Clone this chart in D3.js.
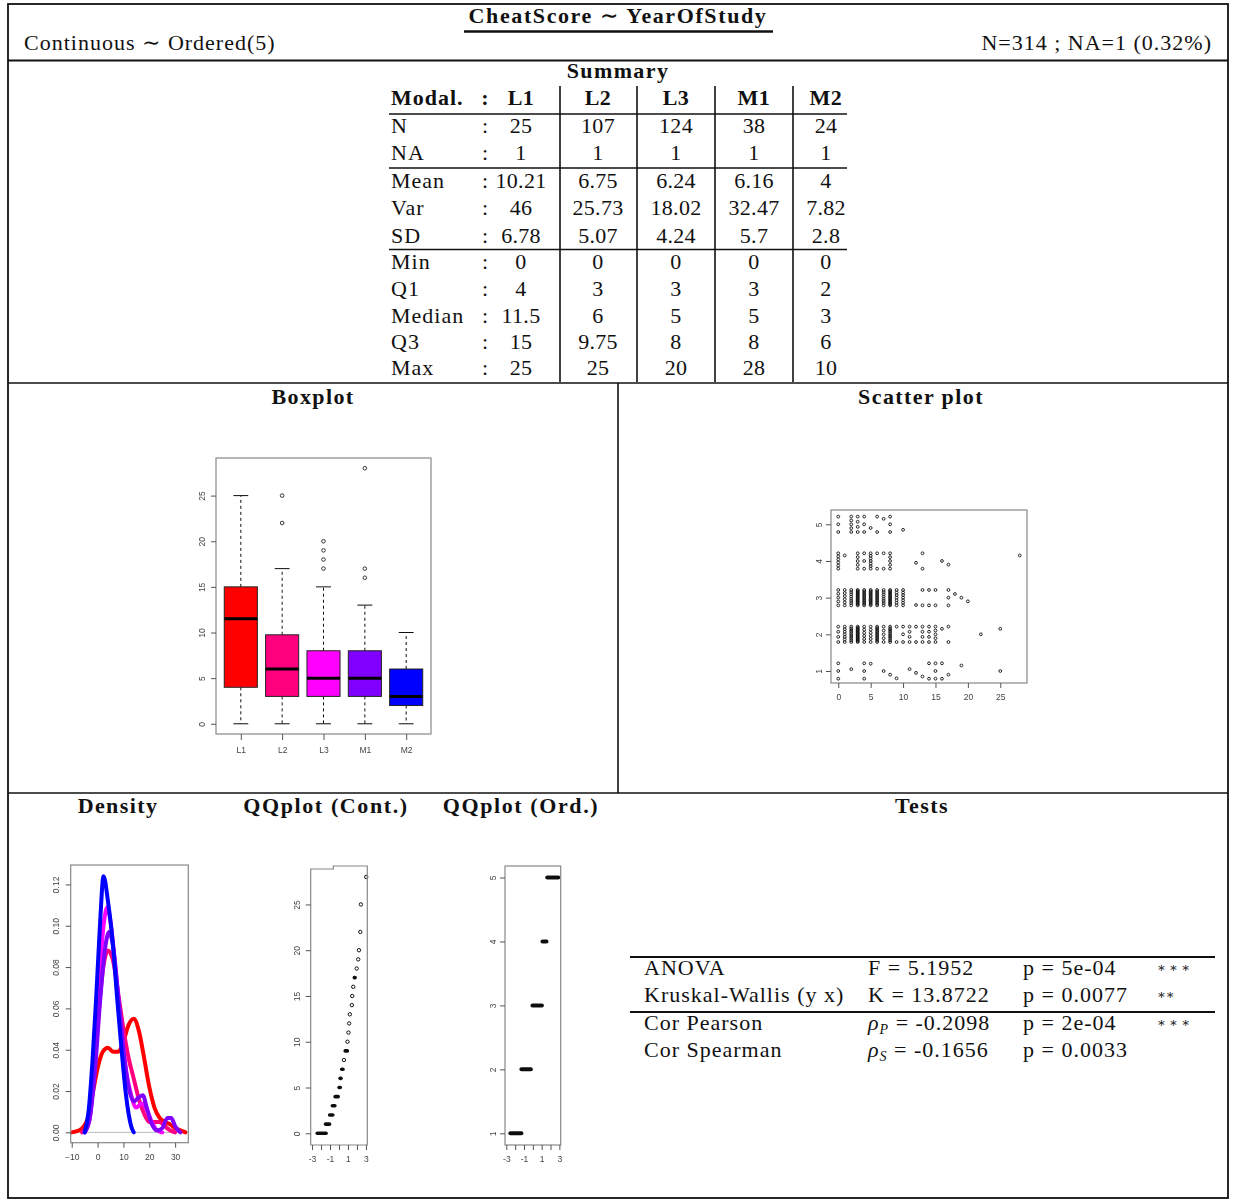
<!DOCTYPE html>
<html>
<head>
<meta charset="utf-8">
<script src="https://cdn.jsdelivr.net/npm/d3@7"></script>
<style>
body{margin:0;background:#fff;}
svg text{font-family:"Liberation Serif","DejaVu Serif",serif;fill:#111;}
.ax text{font-family:"Liberation Sans","DejaVu Sans",sans-serif;font-size:8.5px;fill:#444;letter-spacing:0;}
.ax line{stroke:#555;}
</style>
</head>
<body>
<svg id="chart" width="1234" height="1200"></svg>
<script>
var groups = ['L1','L2','L3','M1','M2'];
var groupColors = ['#FF0000','#FF007F','#FF00FF','#7F00FF','#0000FF'];

// summary table
var rowLabels = ['N','NA','Mean','Var','SD','Min','Q1','Median','Q3','Max'];
var sumN = ['25','107','124','38','24'];
var sumNA = ['1','1','1','1','1'];
var sumMean = ['10.21','6.75','6.24','6.16','4'];
var sumVar = ['46','25.73','18.02','32.47','7.82'];
var sumSD = ['6.78','5.07','4.24','5.7','2.8'];
var sumMin = [0,0,0,0,0];
var sumQ1 = [4,3,3,3,2];
var sumMedian = [11.5,6,5,5,3];
var sumQ3 = [15,9.75,8,8,6];
var sumMax = [25,25,20,28,10];

// boxplot extras
var whiskerHigh = [25,17,15,13,10];
var outliers = [[],[22,25],[17,18,19,20],[16,17,28],[]];

// CheatScore values per group, as [score, count]
var countsL1 = [[0,3],[2,1],[4,3],[5,1],[7,1],[8,1],[9,1],[11,1],[12,1],[13,1],[14,2],[15,3],[16,2],[17,1],[19,1],[25,1]];
var countsL2 = [[0,4],[1,7],[2,10],[3,17],[4,6],[5,6],[6,12],[7,5],[8,10],[9,2],[10,3],[11,4],[12,2],[13,4],[14,4],[15,5],[16,1],[17,2],[22,1],[25,1]];
var countsL3 = [[0,5],[1,6],[2,8],[3,17],[4,12],[5,14],[6,12],[7,8],[8,14],[9,7],[10,7],[12,1],[13,2],[14,2],[15,2],[17,3],[18,1],[19,1],[20,1]];
var countsM1 = [[0,6],[1,1],[3,5],[4,3],[5,7],[6,2],[7,2],[8,5],[12,1],[13,2],[16,1],[17,1],[28,1]];
var countsM2 = [[0,3],[2,5],[3,4],[4,3],[5,1],[6,2],[7,1],[8,3],[10,1]];

// density curves [x, density]
var densL1 = [[-10,0],[-7,0.001],[-4,0.006],[-2,0.018],[0,0.031],[2,0.039],[4,0.041],[6,0.039],[8,0.039],[10,0.044],[12,0.052],[14,0.055],[16,0.049],[18,0.036],[20,0.022],[22,0.012],[24,0.007],[26,0.005],[28,0.004],[30,0.002],[32,0.001],[34,0]];
var densL2 = [[-6,0],[-4,0.004],[-2,0.022],[0,0.052],[2,0.078],[4,0.088],[6,0.083],[8,0.067],[10,0.050],[12,0.036],[14,0.026],[16,0.016],[18,0.009],[20,0.005],[22,0.005],[24,0.005],[26,0.003],[28,0.001],[30,0]];
var densL3 = [[-5,0],[-3,0.007],[-1,0.036],[1,0.080],[2.5,0.102],[3.8,0.109],[5,0.102],[7,0.078],[9,0.052],[11,0.030],[13,0.018],[15,0.012],[17,0.014],[19,0.011],[21,0.005],[23,0.001],[25,0]];
var densM1 = [[-5,0],[-3,0.007],[-1,0.030],[1,0.064],[3,0.090],[4.5,0.097],[6,0.090],[8,0.066],[10,0.040],[12,0.022],[14,0.015],[16,0.017],[17.5,0.018],[19,0.012],[21,0.004],[23,0.001],[25,0.002],[27,0.007],[28.5,0.007],[30,0.003],[32,0]];
var densM2 = [[-5,0],[-3.5,0.010],[-2,0.034],[-0.5,0.066],[1,0.102],[2.3,0.124],[4,0.112],[6,0.090],[7.5,0.066],[9,0.044],[11,0.018],[13,0.003],[14,0]];

// qq plots: [value, quantile from, quantile to] (visible extent of each run)
var qqContRuns = [[0,-2.62,-1.24],[1,-1.69,-0.86],[2,-1.24,-0.49],[3,-0.94,-0.26],[4,-0.63,0.11],[5,-0.19,0.34],[6,-0.08,0.42],[7,0.11,0.64],[8,0.38,0.72],[9,0.49,1.13],[10,0.79,1.09],[11,0.96,1.15],[12,1.02,1.24],[13,1.09,1.32],[14,1.24,1.62],[15,1.32,1.62],[16,1.47,1.70],[17,1.51,1.99],[18,1.92,2.03],[19,1.99,2.29],[20,2.07,2.37],[22,2.32,2.42],[25,2.25,2.63],[28,2.98,3.08]];
var qqOrdRuns = [[1,-2.77,-1.07],[2,-1.52,0.0],[3,-0.27,1.25],[4,0.86,1.77],[5,1.40,3.1]];

// tests
var testNames = ['ANOVA','Kruskal-Wallis (y x)','Cor Pearson','Cor Spearman'];
var testStatLetter = ['F','K','\u03C1','\u03C1'];
var testStatSub = ['','','P','S'];
var testStatValue = ['5.1952','13.8722','-0.2098','-0.1656'];
var testPValue = ['5e-04','0.0077','2e-04','0.0033'];
var testStars = ['\u2217 \u2217 \u2217','\u2217\u2217','\u2217 \u2217 \u2217',''];

var svg = d3.select('#chart');
svg.append('defs').append('filter').attr('id','soft')
    .append('feGaussianBlur').attr('stdDeviation',0.45);

function line(x1,y1,x2,y2,w){
    svg.append('line').attr('x1',x1).attr('y1',y1).attr('x2',x2).attr('y2',y2)
        .attr('stroke','#111').attr('stroke-width',w||1.5);
}
function label(x,y,t,opts){
    opts = opts || {};
    return svg.append('text').attr('x',x).attr('y',y)
        .attr('text-anchor',opts.anchor||'start')
        .style('font-size',(opts.size||22)+'px')
        .style('font-weight',opts.bold?'bold':'normal')
        .style('letter-spacing',(opts.ls===undefined?1:opts.ls)+'px')
        .text(t);
}

//page frame and separators
svg.append('rect').attr('x',8).attr('y',4).attr('width',1220).attr('height',1194)
    .attr('fill','none').attr('stroke','#111').attr('stroke-width',1.8);
line(8,60.5,1228,60.5,2);
line(8,383,1228,383,1.6);
line(618,383,618,793,1.6);
line(8,793,1228,793,1.6);

//header
label(618,23,'CheatScore \u223C YearOfStudy',{anchor:'middle',bold:true,ls:1.6});
line(464,31.5,773,31.5,2.4);
label(24,50,'Continuous \u223C Ordered(5)');
label(1212,50,'N=314 ; NA=1 (0.32%)',{anchor:'end'});

//summary table
label(618,78,'Summary',{anchor:'middle',bold:true,ls:1.4});
var colCenters = [521,598,676,754,826];
var rowY = [132.7,160,187.7,215,242.7,269.3,295.5,322.7,349.3,375];
var tableRows = [sumN,sumNA,sumMean,sumVar,sumSD,sumMin,sumQ1,sumMedian,sumQ3,sumMax];

label(391,105,'Modal.',{bold:true});
label(485,105,':',{anchor:'middle',bold:true,ls:0});
groups.forEach(function(g,i){
    label(colCenters[i],105,g,{anchor:'middle',bold:true,ls:0.5});
});
rowLabels.forEach(function(r,j){
    label(391,rowY[j],r);
    label(485,rowY[j],':',{anchor:'middle',ls:0});
    tableRows[j].forEach(function(v,i){
        label(colCenters[i],rowY[j],String(v),{anchor:'middle',ls:0.3});
    });
});
[560,637,715,793].forEach(function(x){ line(x,86,x,382,1.6); });
[114,168,249.5].forEach(function(y){ line(389,y,847,y,1.6); });

//panel titles
label(313,404,'Boxplot',{anchor:'middle',bold:true,ls:1.4});
label(921,404,'Scatter plot',{anchor:'middle',bold:true,ls:1.4});
label(118,813,'Density',{anchor:'middle',bold:true,ls:1.4});
label(326,813,'QQplot (Cont.)',{anchor:'middle',bold:true,ls:1.6});
label(521,813,'QQplot (Ord.)',{anchor:'middle',bold:true,ls:1.6});
label(922,813,'Tests',{anchor:'middle',bold:true,ls:1.4});

function rotateY(axisG, off){
    axisG.select('.domain').remove();
    axisG.selectAll('text')
        .attr('x',0).attr('y',-(off||8)).attr('dy',0)
        .attr('transform','rotate(-90)')
        .style('text-anchor','middle');
}
function frame(g,x0,x1,y0,y1){
    g.append('rect').attr('x',x0).attr('y',y0).attr('width',x1-x0).attr('height',y1-y0)
        .attr('fill','none').attr('stroke','#888').attr('stroke-width',1.2);
}

//boxplot
var bx = d3.scaleLinear().domain([0.4,5.6]).range([216,431]);
var by = d3.scaleLinear().domain([-1.12,29.12]).range([734,458]);
var gB = svg.append('g').attr('filter','url(#soft)');
groups.forEach(function(g,i){
    var cx = bx(i+1), hw = bx(1.4)-bx(1), cap = bx(1.18)-bx(1);
    gB.append('line').attr('x1',cx).attr('x2',cx).attr('y1',by(sumQ3[i])).attr('y2',by(whiskerHigh[i]))
        .attr('stroke','#111').attr('stroke-dasharray','3,3');
    gB.append('line').attr('x1',cx).attr('x2',cx).attr('y1',by(sumQ1[i])).attr('y2',by(sumMin[i]))
        .attr('stroke','#111').attr('stroke-dasharray','3,3');
    [whiskerHigh[i],sumMin[i]].forEach(function(v){
        gB.append('line').attr('x1',cx-cap).attr('x2',cx+cap).attr('y1',by(v)).attr('y2',by(v))
            .attr('stroke','#111');
    });
    gB.append('rect').attr('x',cx-hw).attr('width',2*hw)
        .attr('y',by(sumQ3[i])).attr('height',by(sumQ1[i])-by(sumQ3[i]))
        .attr('fill',groupColors[i]).attr('stroke','#222').attr('stroke-width',1);
    gB.append('line').attr('x1',cx-hw).attr('x2',cx+hw).attr('y1',by(sumMedian[i])).attr('y2',by(sumMedian[i]))
        .attr('stroke','#000').attr('stroke-width',3);
    gB.selectAll(null).data(outliers[i]).enter().append('circle')
        .attr('cx',cx).attr('cy',function(d){return by(d);}).attr('r',1.8)
        .attr('fill','none').attr('stroke','#222').attr('stroke-width',0.9);
});
frame(gB,216,431,458,734);
gB.append('g').attr('class','ax').attr('transform','translate(0,734)')
    .call(d3.axisBottom(bx).tickValues([1,2,3,4,5]).tickFormat(function(d,i){return groups[i];}).tickSize(6).tickPadding(7))
    .select('.domain').remove();
rotateY(gB.append('g').attr('class','ax').attr('transform','translate(216,0)')
    .call(d3.axisLeft(by).tickValues([0,5,10,15,20,25]).tickSize(5)), 11);

//scatter plot
var sx = d3.scaleLinear().domain([-1.12,29.12]).range([831,1027]);
var sy = d3.scaleLinear().domain([0.673,5.39]).range([683,510]);
var gS = svg.append('g').attr('filter','url(#soft)');
[countsL1,countsL2,countsL3,countsM1,countsM2].forEach(function(counts,gi){
    var pts = [];
    counts.forEach(function(c){
        for(var k=0;k<c[1];k++){
            var off = c[1]===1 ? (((c[0]*7+gi*3)%9)-4)*0.05 : -0.21 + 0.42*k/(c[1]-1);
            pts.push({x:c[0], y:gi+1+off});
        }
    });
    gS.selectAll(null).data(pts).enter().append('circle')
        .attr('cx',function(d){return sx(d.x);}).attr('cy',function(d){return sy(d.y);})
        .attr('r',1.4).attr('fill','none').attr('stroke','#111').attr('stroke-width',0.9);
});
frame(gS,831,1027,510,683);
gS.append('g').attr('class','ax').attr('transform','translate(0,683)')
    .call(d3.axisBottom(sx).tickValues([0,5,10,15,20,25]).tickSize(5).tickPadding(6))
    .select('.domain').remove();
rotateY(gS.append('g').attr('class','ax').attr('transform','translate(831,0)')
    .call(d3.axisLeft(sy).tickValues([1,2,3,4,5]).tickFormat(d3.format('d')).tickSize(5)), 9);

//density
var dx = d3.scaleLinear().domain([-10.4,35.1]).range([70.7,188.3]);
var dy = d3.scaleLinear().domain([-0.005,0.1294]).range([1142.7,865]);
var gD = svg.append('g').attr('filter','url(#soft)');
gD.append('line').attr('x1',70.7).attr('x2',188.3).attr('y1',dy(0)).attr('y2',dy(0))
    .attr('stroke','#bbb').attr('stroke-width',1);
var densLine = d3.line().x(function(d){return dx(d[0]);}).y(function(d){return dy(d[1]);})
    .curve(d3.curveMonotoneX);
[densL1,densL2,densL3,densM1,densM2].forEach(function(dd,i){
    gD.append('path').attr('d',densLine(dd)).attr('fill','none')
        .attr('stroke',groupColors[i]).attr('stroke-width',4)
        .attr('stroke-linejoin','round').attr('stroke-linecap','round');
});
frame(gD,70.7,188.3,865,1142.7);
gD.append('g').attr('class','ax').attr('transform','translate(0,1142.7)')
    .call(d3.axisBottom(dx).tickValues([-10,0,10,20,30]).tickSize(5).tickPadding(6))
    .select('.domain').remove();
rotateY(gD.append('g').attr('class','ax').attr('transform','translate(70.7,0)')
    .call(d3.axisLeft(dy).tickValues([0,0.02,0.04,0.06,0.08,0.10,0.12]).tickFormat(d3.format('.2f')).tickSize(5)), 12);

//qq plot continuous
var qx = d3.scaleLinear().domain([-3.15,3.15]).range([310.7,367.3]);
var qy = d3.scaleLinear().domain([-1.28,29.2]).range([1145,866]);
var gQ = svg.append('g').attr('filter','url(#soft)');
function drawRuns(g, runs, xs, ys, h){
    runs.forEach(function(r){
        var x0 = xs(r[1]), x1 = xs(r[2]);
        if(x1-x0 < 3.5){
            g.append('circle').attr('cx',(x0+x1)/2).attr('cy',ys(r[0])).attr('r',1.7)
                .attr('fill','none').attr('stroke','#111').attr('stroke-width',1);
        }else{
            g.append('rect').attr('x',x0).attr('width',x1-x0)
                .attr('y',ys(r[0])-h/2).attr('height',h).attr('rx',h/2)
                .attr('fill','#111');
        }
    });
}
drawRuns(gQ, qqContRuns, qx, qy, 3.6);
gQ.append('path').attr('d','M310.7,1145V869H333.3V866H367.3V1145Z')
    .attr('fill','none').attr('stroke','#888').attr('stroke-width',1.2);
gQ.append('g').attr('class','ax').attr('transform','translate(0,1145)')
    .call(d3.axisBottom(qx).tickValues([-3,-2,-1,0,1,2,3]).tickFormat(function(d){return Math.abs(d)%2===1?d:'';}).tickSize(5).tickPadding(6))
    .select('.domain').remove();
rotateY(gQ.append('g').attr('class','ax').attr('transform','translate(310.7,0)')
    .call(d3.axisLeft(qy).tickValues([0,5,10,15,20,25]).tickSize(5)), 11);

//qq plot ordered
var ox = d3.scaleLinear().domain([-3.15,3.15]).range([505,560.7]);
var oy = d3.scaleLinear().domain([0.817,5.18]).range([1145,866]);
var gO = svg.append('g').attr('filter','url(#soft)');
drawRuns(gO, qqOrdRuns, ox, oy, 4);
frame(gO,505,560.7,866,1145);
gO.append('g').attr('class','ax').attr('transform','translate(0,1145)')
    .call(d3.axisBottom(ox).tickValues([-3,-2,-1,0,1,2,3]).tickFormat(function(d){return Math.abs(d)%2===1?d:'';}).tickSize(5).tickPadding(6))
    .select('.domain').remove();
rotateY(gO.append('g').attr('class','ax').attr('transform','translate(505,0)')
    .call(d3.axisLeft(oy).tickValues([1,2,3,4,5]).tickFormat(d3.format('d')).tickSize(5)), 9);

//tests
var testY = [975,1002,1030,1057];
line(630,957,1215,957,2);
line(630,1012,1215,1012,1.8);
testNames.forEach(function(n,i){
    label(644,testY[i],n);
    var t = svg.append('text').attr('x',868).attr('y',testY[i]).style('font-size','22px').style('letter-spacing','1px');
    if(testStatSub[i]){
        t.append('tspan').style('font-style','italic').text(testStatLetter[i]);
        t.append('tspan').style('font-style','italic').style('font-size','14px').attr('dy',4).text(testStatSub[i]);
        t.append('tspan').attr('dy',-4).text(' = ' + testStatValue[i]);
    }else{
        t.text(testStatLetter[i] + ' = ' + testStatValue[i]);
    }
    label(1023,testY[i],'p = ' + testPValue[i]);
    label(1157,testY[i]-3,testStars[i],{size:13,ls:0});
});
</script>
</body>
</html>
